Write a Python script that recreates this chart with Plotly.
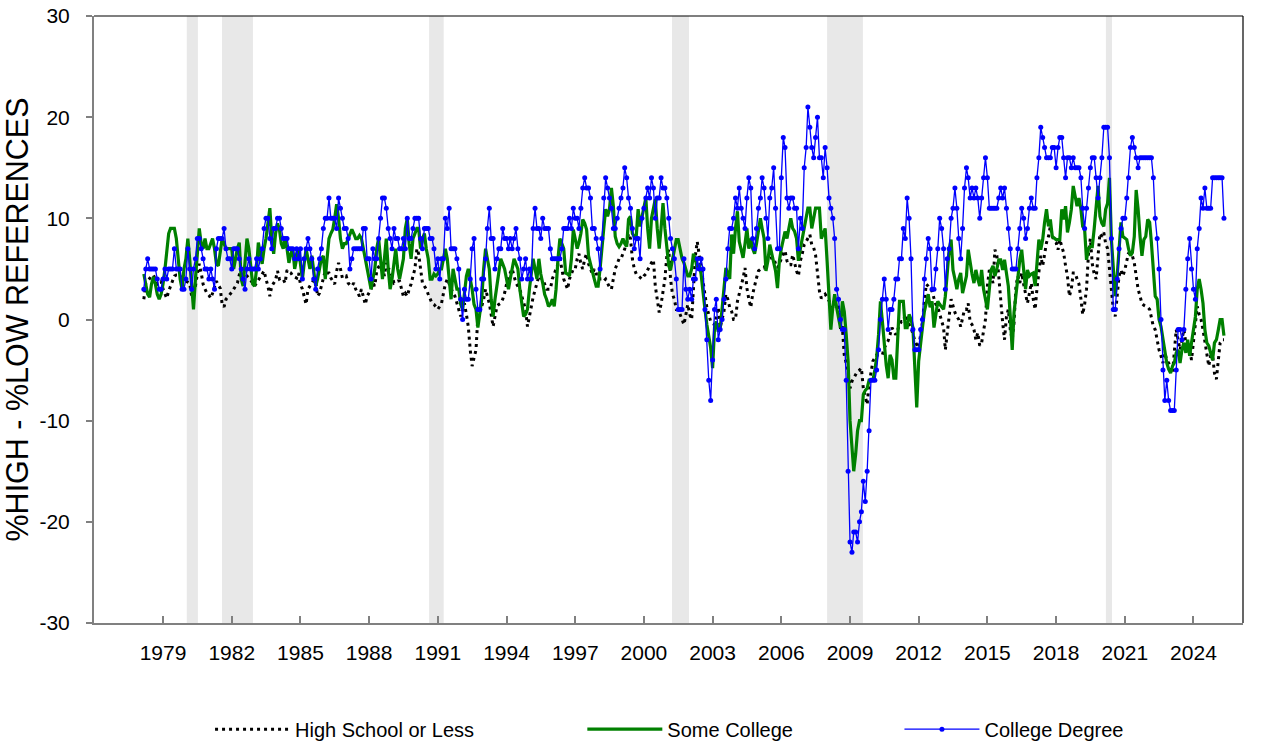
import pandas as pd
import plotly.graph_objects as go

# Monthly values, Mar 1978 - May 2025 (one line per year)
high_school = [
    2.0, 3.6, 3.8, 4.1, 4.3, 4.4, 4.0, 3.5, 3.7, 3.8,                # 1978 (Mar-Dec)
    3.0, 2.6, 2.1, 2.8, 3.3, 3.9, 4.3, 4.4, 4.4, 4.3, 4.1, 4.0,      # 1979
    3.8, 3.7, 3.6, 2.3, 2.8, 3.3, 4.5, 5.5, 4.6, 3.5, 3.0, 2.6,      # 1980
    2.4, 2.1, 2.6, 3.2, 3.8, 3.4, 3.1, 1.5, 1.25, 2.0, 2.2, 2.4,     # 1981
    2.7, 3.0, 3.3, 3.6, 4.4, 4.9, 5.3, 4.8, 4.3, 4.1, 3.9, 3.6,      # 1982
    3.3, 3.6, 3.9, 4.1, 4.5, 4.8, 4.0, 3.3, 2.3, 3.3, 3.6, 3.9,      # 1983
    4.8, 4.0, 4.1, 4.0, 3.6, 4.9, 4.7, 4.6, 4.3, 4.2, 4.1, 4.6,      # 1984
    3.5, 3.0, 2.3, 1.5, 3.0, 3.3, 3.6, 3.9, 3.8, 2.3, 2.6, 3.4,      # 1985
    4.3, 4.8, 4.6, 4.6, 4.1, 3.8, 3.5, 4.8, 5.6, 5.0, 4.1, 4.2,      # 1986
    4.3, 3.6, 3.4, 3.3, 3.6, 3.0, 2.6, 2.3, 3.0, 2.1, 1.5, 2.3,      # 1987
    2.6, 3.0, 3.6, 3.3, 4.8, 5.2, 5.4, 5.1, 4.3, 5.6, 5.0, 4.9,      # 1988
    4.3, 3.6, 3.7, 3.8, 3.8, 3.0, 2.3, 2.6, 2.3, 3.0, 3.5, 4.3,      # 1989
    5.0, 7.0, 6.5, 5.0, 3.6, 3.3, 3.0, 2.5, 2.0, 1.6, 1.5, 1.3,      # 1990
    1.0, 1.3, 1.6, 2.6, 3.5, 4.0, 3.5, 3.0, 2.6, 2.3, 1.6, 1.0,      # 1991
    0.3, 1.0, 1.6, 0.5, -0.7, -3.0, -4.6, -3.8, -3.0, 0.3, 0.8, 1.3, # 1992
    2.0, 3.0, 2.3, 1.6, 0.5, -0.7, 0.3, 1.3, 1.5, 1.6, 2.0, 2.6,     # 1993
    3.5, 4.3, 4.6, 5.0, 4.3, 3.6, 3.3, 3.0, 2.3, 1.6, 1.0, -0.7,     # 1994
    0.5, 1.3, 2.2, 3.0, 3.6, 4.3, 4.1, 4.0, 3.5, 3.0, 3.0, 3.0,      # 1995
    4.0, 4.5, 5.0, 5.5, 6.0, 5.0, 4.0, 3.5, 3.0, 4.0, 4.5, 5.0,      # 1996
    5.0, 6.0, 6.5, 5.5, 5.0, 6.0, 6.5, 5.5, 5.0, 4.5, 5.0, 4.5,      # 1997
    4.5, 4.0, 4.0, 3.8, 4.0, 3.5, 3.2, 3.0, 4.0, 5.0, 5.5, 6.0,      # 1998
    6.0, 6.5, 7.0, 7.5, 8.5, 8.0, 6.0, 5.0, 4.5, 4.3, 4.1, 4.0,      # 1999
    4.3, 4.5, 4.9, 5.3, 5.6, 5.9, 3.3, 2.0, 0.7, 1.5, 3.0, 4.0,      # 2000
    6.3, 6.9, 4.0, 2.5, 2.0, 1.0, 1.0, 0.5, 0.0, -0.5, 0.5, 1.5,     # 2001
    0.5, 0.0, 3.0, 6.3, 7.7, 6.4, 5.1, 3.8, 2.5, 1.2, 0.5, -0.2,     # 2002
    -0.4, -0.5, 0.3, 1.2, -0.8, 0.0, 0.8, 2.5, 2.0, 1.2, 0.8, 0.0,   # 2003
    0.0, 1.8, 2.5, 3.5, 4.1, 5.1, 3.1, 2.0, 1.2, 2.5, 3.5, 4.1,      # 2004
    4.8, 5.0, 5.1, 5.1, 5.5, 6.1, 6.0, 6.1, 6.1, 5.5, 5.1, 5.5,      # 2005
    6.1, 6.5, 6.8, 5.8, 5.4, 5.4, 6.4, 5.5, 4.8, 4.3, 5.8, 6.5,      # 2006
    7.4, 7.7, 8.0, 8.4, 7.4, 7.1, 6.4, 4.4, 2.8, 2.1, 2.3, 2.5,      # 2007
    2.2, 1.8, 1.5, 1.2, 1.8, 1.5, 1.2, -0.8, -0.8, -3.5, -4.5, -5.1, # 2008
    -6.8, -6.1, -5.8, -5.4, -5.1, -5.0, -4.8, -6.8, -7.5, -8.4, -6.4, -5.1,  # 2009
    -4.1, -3.8, -3.5, -3.5, -3.5, -3.5, -2.8, -2.5, -2.1, -1.5, -0.8, -1.2,  # 2010
    -1.5, -1.0, -0.5, -0.2, -0.2, 0.5, 0.0, -0.5, -0.8, -1.5, -2.1, -2.5,    # 2011
    -2.8, -1.5, -0.2, 1.8, 3.5, 3.3, 3.1, 2.8, 2.1, 1.5, 1.2, 0.5,   # 2012
    -0.2, -0.8, -3.0, -1.6, 0.3, 2.0, 1.3, 0.7, 0.3, 0.0, -0.7, 0.0, # 2013
    1.0, 1.0, 1.6, -0.3, -0.5, -1.0, -2.0, -1.3, -2.6, -2.3, -1.0, 0.0,      # 2014
    3.3, 4.9, 4.2, 3.6, 6.9, 6.3, 4.3, 1.6, -0.3, -2.0, 0.3, 1.0,    # 2015
    -1.0, -2.0, -0.3, 3.3, 4.3, 3.6, 4.6, 3.5, 2.3, 1.6, 2.6, 3.6,   # 2016
    2.0, 1.0, 3.0, 4.9, 6.3, 5.3, 6.5, 7.6, 8.2, 9.2, 8.2, 7.8,      # 2017
    7.6, 6.9, 7.9, 7.2, 6.6, 5.3, 4.3, 2.3, 3.0, 4.6, 4.6, 4.0,      # 2018
    3.5, 2.0, 0.5, 1.5, 3.0, 6.5, 8.0, 5.5, 4.5, 4.0, 6.0, 8.5,      # 2019
    8.2, 8.6, 7.5, 7.0, 5.0, 3.0, 1.0, 0.3, 2.6, 4.3, 4.9, 4.3,      # 2020
    4.9, 5.9, 6.6, 6.4, 6.3, 5.6, 4.3, 3.0, 2.3, 1.6, 1.4, 1.3,      # 2021
    1.2, 1.0, 0.0, -0.7, -1.0, -2.0, -3.0, -3.6, -4.3, -3.3, -4.0, -4.3,     # 2022
    -4.6, -5.3, -3.3, -1.0, -2.0, -3.0, -2.0, -1.0, -2.3, -2.7, -3.0, -4.0,  # 2023
    -2.0, 0.0, 1.3, 0.5, 0.0, -1.0, -2.3, -3.6, -4.6, -3.6, -3.5, -5.3,      # 2024
    -5.9, -4.0, -2.3, -2.0, -2.0,                                    # 2025 (Jan-May)
]

some_college = [
    4.5, 3.5, 2.5, 2.2, 3.5, 4.2, 3.5, 2.5, 2.0, 2.5,                # 1978 (Mar-Dec)
    3.5, 5.0, 6.5, 8.5, 9.0, 9.0, 9.0, 8.0, 6.0, 4.0, 3.0, 5.0,      # 1979
    6.0, 8.0, 6.0, 3.0, 1.0, 4.0, 7.0, 9.0, 7.5, 7.0, 8.0, 7.0,      # 1980
    7.0, 7.5, 8.0, 7.0, 5.5, 5.3, 6.5, 8.0, 7.5, 7.0, 7.0, 7.0,      # 1981
    7.0, 5.0, 6.0, 7.0, 7.6, 4.0, 3.3, 6.0, 8.0, 7.0, 5.0, 3.5,      # 1982
    3.3, 5.0, 7.6, 6.5, 5.5, 7.0, 8.0, 9.5, 11.0, 8.0, 6.5, 8.5,     # 1983
    9.5, 8.9, 7.5, 7.0, 8.0, 7.0, 5.6, 6.5, 7.0, 5.0, 6.0, 7.0,      # 1984
    5.5, 4.0, 5.5, 7.0, 6.0, 5.0, 6.3, 5.0, 3.3, 4.0, 5.0, 6.0,      # 1985
    6.3, 4.0, 6.0, 8.0, 8.5, 8.9, 10.0, 11.4, 10.0, 8.0, 7.0, 7.5,   # 1986
    7.5, 8.0, 8.5, 8.9, 8.5, 8.0, 8.0, 8.3, 8.0, 7.0, 6.0, 5.0,      # 1987
    4.0, 3.0, 4.0, 5.0, 7.0, 8.0, 6.0, 4.0, 6.0, 8.0, 5.0, 3.0,      # 1988
    4.0, 6.0, 7.0, 5.0, 4.0, 5.0, 6.0, 9.0, 10.0, 7.5, 6.0, 8.0,     # 1989
    8.5, 9.0, 9.0, 7.0, 8.0, 8.5, 7.0, 6.0, 4.0, 4.0, 4.5, 4.3,      # 1990
    4.5, 5.0, 5.0, 6.0, 7.0, 6.0, 4.0, 2.0, 5.0, 4.0, 3.0, 3.0,      # 1991
    1.5, 1.0, 3.0, 4.3, 5.0, 4.0, 3.0, 1.5, 1.0, -0.8, 0.5, 2.0,     # 1992
    5.0, 7.0, 6.0, 5.0, 2.0, 0.3, 2.0, 3.5, 5.0, 6.0, 5.5, 5.0,      # 1993
    4.0, 3.0, 4.0, 5.0, 6.0, 5.5, 5.0, 3.0, 1.5, 0.3, 0.5, 1.0,      # 1994
    3.0, 5.0, 6.0, 5.0, 4.0, 6.0, 4.5, 3.6, 2.5, 2.0, 1.3, 1.5,      # 1995
    2.0, 1.3, 3.0, 6.0, 8.0, 7.5, 7.0, 4.6, 4.5, 4.3, 6.0, 8.9,      # 1996
    8.0, 7.0, 7.6, 8.5, 9.9, 9.5, 8.9, 6.3, 5.5, 4.6, 4.0, 3.3,      # 1997
    3.3, 5.0, 6.6, 9.0, 10.9, 10.2, 10.9, 13.0, 11.2, 8.2, 7.5, 7.2, # 1998
    7.5, 8.0, 7.5, 7.2, 9.9, 10.2, 8.5, 8.2, 8.2, 10.9, 9.2, 10.0,   # 1999
    11.0, 12.0, 9.0, 7.0, 10.0, 11.0, 11.9, 9.0, 7.0, 9.0, 11.5, 9.0,        # 2000
    7.0, 5.3, 4.9, 6.0, 7.0, 7.9, 7.9, 7.0, 6.0, 5.6, 5.0, 4.3,      # 2001
    4.3, 5.0, 6.5, 6.0, 5.0, 5.5, 4.5, 2.5, 1.0, -0.5, -1.5, -2.8,   # 2002
    -4.8, -0.8, -0.2, -1.2, -1.0, 1.0, 3.1, 5.1, 4.5, 4.0, 8.4, 6.5, # 2003
    9.0, 10.7, 7.7, 7.0, 6.1, 7.5, 9.0, 7.0, 8.0, 7.0, 6.5, 7.5,     # 2004
    8.7, 10.0, 9.0, 8.0, 4.8, 5.8, 7.4, 6.4, 5.5, 4.8, 3.1, 5.8,     # 2005
    7.0, 8.0, 8.7, 8.0, 9.0, 10.0, 9.0, 8.7, 8.0, 5.8, 7.0, 8.0,     # 2006
    9.0, 10.0, 11.0, 11.0, 9.0, 10.0, 11.0, 11.0, 11.0, 8.0, 8.5, 9.0,       # 2007
    5.8, 1.8, -1.0, 1.2, 2.5, 1.2, 0.0, -0.8, 1.8, 0.8, -1.5, -4.1,  # 2008
    -10.0, -13.3, -15.0, -13.3, -11.0, -10.0, -10.0, -7.4, -7.0, -6.8, -6.0, -6.0,  # 2009
    -6.0, -5.0, -3.8, -1.5, 1.8, -0.2, -2.8, -4.5, -5.8, -3.5, -4.0, -5.8,   # 2010
    -5.8, -0.8, 1.8, 1.8, 1.8, -0.8, -0.8, 0.5, 0.0, -0.8, -5.8, -8.7,       # 2011
    -4.1, -2.0, -0.8, 0.8, 1.8, 2.5, 1.2, 1.8, -0.8, 0.5, 1.8, 1.5,  # 2012
    1.2, 1.0, 2.3, 4.9, 6.9, 7.9, 4.9, 4.0, 3.0, 4.0, 4.6, 2.6,      # 2013
    3.5, 4.3, 6.9, 5.6, 4.5, 3.6, 4.9, 4.0, 3.3, 4.9, 3.0, 2.0,      # 2014
    1.0, 3.0, 4.9, 5.3, 4.3, 5.0, 5.9, 5.9, 4.9, 5.9, 4.5, 3.3,      # 2015
    0.3, -3.0, 0.7, 2.5, 4.3, 5.9, 6.9, 4.9, 3.0, 4.9, 4.3, 4.5,     # 2016
    4.6, 3.3, 5.3, 7.9, 6.9, 7.9, 9.6, 10.9, 9.2, 9.9, 8.2, 8.0,     # 2017
    7.9, 7.9, 7.9, 10.9, 9.9, 11.2, 8.6, 9.6, 10.9, 13.2, 12.0, 11.2,        # 2018
    12.0, 10.9, 9.2, 8.9, 5.9, 7.0, 7.2, 7.2, 9.0, 10.9, 13.2, 10.2, # 2019
    9.5, 9.2, 10.9, 11.5, 14.0, 7.9, 4.9, 2.3, 4.3, 6.9, 9.6, 8.2,   # 2020
    8.0, 7.9, 7.0, 6.3, 6.6, 8.2, 12.8, 10.9, 8.2, 6.3, 7.9, 8.2,    # 2021
    9.9, 9.6, 7.6, 5.0, 2.3, 2.0, 0.0, -0.7, -2.0, -3.0, -4.3, -4.9, # 2022
    -5.3, -4.6, -4.3, -3.3, -3.0, -4.3, -3.0, -2.3, -3.3, -2.0, -3.6, -2.3,  # 2023
    -1.0, 0.3, 3.0, 4.0, 3.0, 1.6, -1.0, -2.3, -2.6, -3.3, -4.0, -2.3,       # 2024
    -2.0, -1.0, 0.0, 0.0, -1.6,                                      # 2025 (Jan-May)
]

college_degree = [
    3, 5, 6, 5, 5, 5, 5, 4, 3, 3,                 # 1978 (Mar-Dec)
    4, 5, 4, 5, 5, 5, 7, 5, 5, 5, 3, 3,           # 1979
    4, 7, 5, 3, 5, 6, 8, 8, 7, 6, 5, 5,           # 1980
    4, 5, 4, 3, 7, 8, 8, 8, 9, 7, 6, 6,           # 1981
    5, 7, 7, 7, 6, 5, 4, 3, 5, 6, 5, 5,           # 1982
    5, 6, 5, 6, 7, 9, 10, 10, 8, 7, 9, 9,         # 1983
    10, 10, 9, 8, 8, 8, 7, 7, 7, 6, 7, 6,         # 1984
    7, 4, 6, 7, 8, 7, 6, 4, 3, 5, 6, 7,           # 1985
    9, 10, 10, 12, 10, 10, 10, 9, 12, 11, 10, 9,  # 1986
    9, 8, 5, 6, 7, 7, 7, 7, 7, 9, 9, 6,           # 1987
    6, 4, 7, 6, 6, 8, 10, 12, 12, 11, 9, 8,       # 1988
    7, 9, 8, 8, 7, 7, 8, 7, 10, 8, 8, 9,          # 1989
    10, 10, 10, 8, 7, 9, 9, 9, 8, 8, 7, 5,        # 1990
    6, 4, 6, 6, 10, 9, 11, 7, 7, 7, 6, 5,         # 1991
    2, 0, 3, 2, 2, 4, 7, 8, 3, 1, 1, 4,           # 1992
    4, 6, 9, 11, 8, 8, 5, 6, 7, 7, 9, 8,          # 1993
    8, 7, 8, 7, 8, 9, 7, 6, 4, 5, 6, 4,           # 1994
    5, 4, 9, 11, 9, 9, 8, 10, 9, 9, 9, 7,         # 1995
    6, 6, 6, 6, 6, 7, 9, 9, 9, 10, 9, 11,         # 1996
    10, 10, 9, 11, 13, 14, 13, 13, 12, 9, 9, 8,   # 1997
    7, 5, 8, 12, 14, 13, 12, 11, 9, 9, 10, 11,    # 1998
    12, 13, 15, 14, 12, 11, 9, 7, 8, 8, 6, 10,    # 1999
    11, 12, 13, 12, 14, 13, 10, 12, 12, 14, 13, 13,  # 2000
    12, 10, 8, 7, 6, 4, 1, 1, 1, 6, 3, 2,         # 2001
    3, 2, 4, 4, 6, 5, 6, 5, 1, -2, -6, -8,        # 2002
    -4, 1, 2, -2, -1, 0, 2, 4, 7, 9, 9, 10,       # 2003
    12, 11, 13, 11, 10, 9, 12, 14, 13, 8, 7, 9,   # 2004
    11, 12, 14, 13, 10, 8, 12, 13, 15, 11, 7, 7,  # 2005
    14, 18, 17, 12, 11, 12, 12, 11, 11, 7, 10, 9, # 2006
    15, 17, 21, 19, 17, 16, 18, 20, 16, 16, 14, 17,  # 2007
    15, 12, 11, 10, 8, 3, 2, 0, -1, -1, -6, -15,  # 2008
    -22, -23, -21, -21, -22, -20, -19, -16, -18, -15, -11, -6,  # 2009
    -6, -6, -5, -3, 0, 2, 4, 2, -1, 1, 1, 2,      # 2010
    4, 4, 6, 6, 9, 8, 12, 10, 6, -1, -3, -3,      # 2011
    -3, -1, 0, 4, 6, 8, 7, 3, 3, 5, 7, 10,        # 2012
    9, 7, 3, 6, 7, 10, 11, 13, 11, 8, 6, 9,       # 2013
    13, 15, 14, 12, 13, 12, 13, 12, 10, 12, 14, 16,  # 2014
    14, 11, 11, 11, 11, 11, 12, 13, 12, 13, 11, 9,   # 2015
    7, 5, 5, 5, 7, 9, 11, 10, 8, 9, 11, 12,       # 2016
    11, 11, 14, 16, 19, 18, 17, 16, 16, 16, 17, 17,  # 2017
    15, 17, 18, 18, 16, 14, 16, 16, 15, 16, 15, 15,  # 2018
    15, 14, 11, 9, 11, 13, 15, 16, 16, 14, 12, 14,   # 2019
    16, 19, 19, 19, 16, 8, 1, 1, 4, 7, 9, 10,     # 2020
    10, 12, 14, 17, 18, 17, 16, 15, 16, 16, 16, 16,  # 2021
    16, 16, 16, 14, 10, 8, 5, 0, -5, -8, -6, -8,  # 2022
    -9, -9, -9, -5, -1, -1, -2, -1, 3, 6, 8, 5,   # 2023
    3, 2, 7, 9, 12, 11, 13, 11, 11, 11, 14, 14,   # 2024
    14, 14, 14, 14, 10,                           # 2025 (Jan-May)
]

series_start = "1978-03-01"
tick_years = list(range(1979, 2025, 3))
tick_labels = [str(y) for y in tick_years]
y_ticks = [-30, -20, -10, 0, 10, 20, 30]
y_tick_labels = ["-30", "-20", "-10", "0", "10", "20", "30"]

# Recession periods (shaded)
recessions = [
    ("1980-01-15", "1980-07-10"),
    ("1981-07-30", "1982-12-05"),
    ("1990-08-15", "1991-04-05"),
    ("2001-03-25", "2001-12-20"),
    ("2008-01-01", "2009-07-25"),
    ("2020-03-05", "2020-06-10"),
]

n = len(college_degree)
assert len(high_school) == n and len(some_college) == n, (len(high_school), len(some_college), n)
dates = pd.date_range(series_start, periods=n, freq="MS")

FONT = "Liberation Sans, Arial, sans-serif"

fig = go.Figure()
fig.add_trace(go.Scatter(
    x=dates, y=high_school, name="High School or Less", mode="lines",
    line=dict(color="black", width=3, dash="3px,4px"), legend="legend",
))
fig.add_trace(go.Scatter(
    x=dates, y=some_college, name="Some College", mode="lines",
    line=dict(color="#008000", width=3.2), legend="legend2",
))
fig.add_trace(go.Scatter(
    x=dates, y=college_degree, name="College Degree", mode="lines+markers",
    line=dict(color="#0000FF", width=1.3), marker=dict(color="#0000FF", size=5),
    legend="legend3",
))

for a, b in recessions:
    fig.add_vrect(x0=a, x1=b, fillcolor="#e8e8e8", opacity=1, line_width=0, layer="below")

# Top and right frame lines
fig.add_shape(type="line", xref="paper", yref="paper", x0=0, x1=1, y0=1, y1=1,
              line=dict(color="black", width=1.2))
fig.add_shape(type="line", xref="paper", yref="paper", x0=1, x1=1, y0=0, y1=1,
              line=dict(color="black", width=1.2))

legend_common = dict(orientation="h", y=-0.175, yanchor="middle", xanchor="left",
                     font=dict(family=FONT, size=20, color="black"),
                     itemwidth=75, bgcolor="rgba(0,0,0,0)", tracegroupgap=0)

fig.update_layout(
    width=1262, height=742,
    margin=dict(l=94, r=19, t=16, b=119, autoexpand=False),
    paper_bgcolor="white", plot_bgcolor="white",
    font=dict(family=FONT, color="black"),
    showlegend=True,
    legend=dict(x=0.101, **legend_common),
    legend2=dict(x=0.425, **legend_common),
    legend3=dict(x=0.701, **legend_common),
    xaxis=dict(
        type="date", range=["1975-12-27", "2026-03-01"],
        tickvals=[f"{y}-01-01" for y in tick_years], ticktext=tick_labels,
        ticks="inside", ticklen=7, tickwidth=1.5, tickcolor="#808080",
        showline=True, linecolor="#808080", linewidth=2,
        showgrid=False, zeroline=False, automargin=False,
        tickfont=dict(family=FONT, size=21, color="black"),
        ticklabelstandoff=10,
    ),
    yaxis=dict(
        range=[-30, 30], tickvals=y_ticks, ticktext=y_tick_labels,
        ticks="outside", ticklen=6, tickwidth=1.5, tickcolor="#808080",
        showline=True, linecolor="#808080", linewidth=2,
        showgrid=False, zeroline=False, automargin=False,
        tickfont=dict(family=FONT, size=21, color="black"),
        ticklabelstandoff=12,
        title=dict(text="%HIGH - %LOW REFERENCES", font=dict(family=FONT, size=30.5, color="black"),
                   standoff=4),
    ),
)

fig.write_html("out.html", config={"displayModeBar": False},
               post_script="document.body.style.margin='0';")
